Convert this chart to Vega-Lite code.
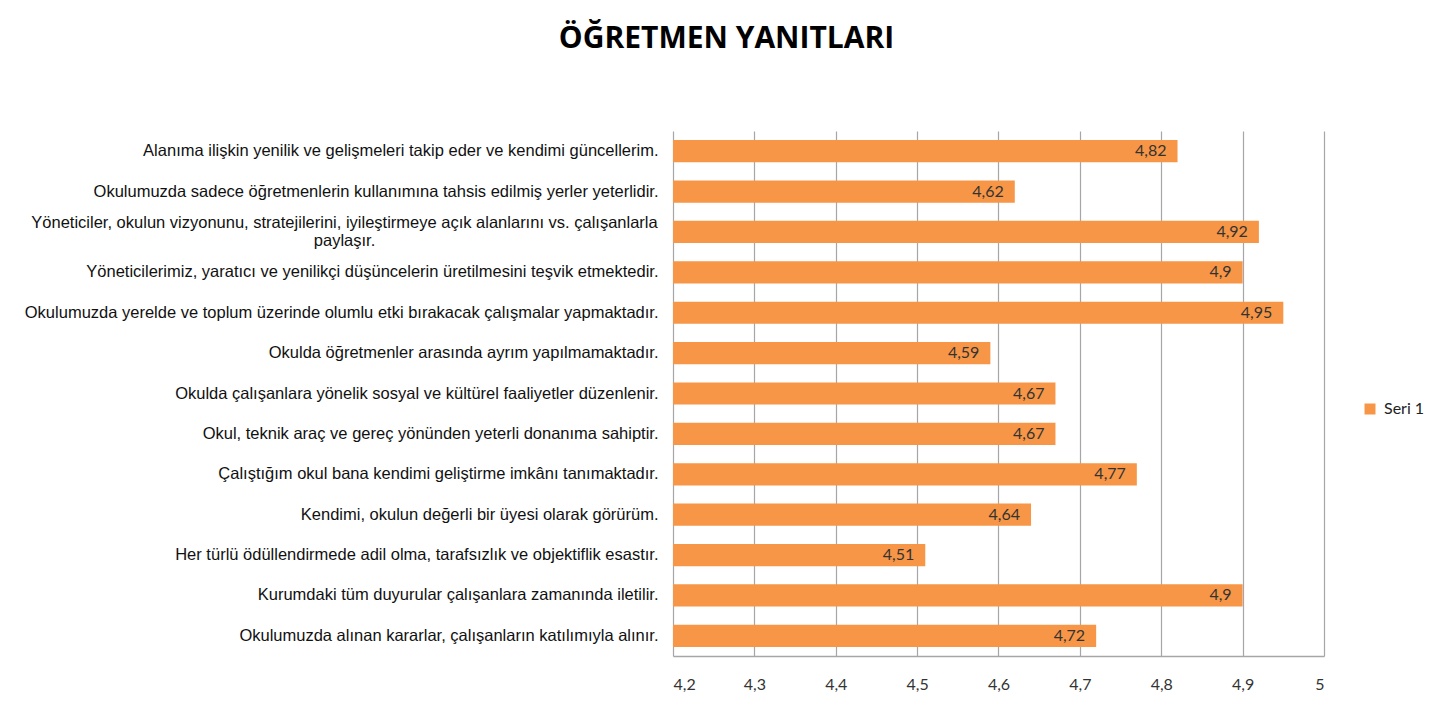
{
  "$schema": "https://vega.github.io/schema/vega-lite/v6.json",
  "width": 651,
  "height": 525,
  "autosize": {"type": "none"},
  "padding": {"left": 673, "top": 131, "right": 107, "bottom": 52},
  "background": "white",
  "title": {
    "text": "ÖĞRETMEN YANITLARI",
    "font": "Open Sans",
    "fontSize": 30,
    "fontWeight": "bold",
    "color": "#000000",
    "anchor": "middle",
    "dx": -272,
    "offset": 77
  },
  "config": {
    "locale": {"number": {"decimal": ",", "thousands": ".", "grouping": [3], "currency": ["", " ₺"]}},
    "view": {"stroke": null}
  },
  "data": {
    "values": [
      {"madde": "Alanıma ilişkin yenilik ve gelişmeleri takip eder ve kendimi güncellerim.", "deger": 4.82, "seri": "Seri 1"},
      {"madde": "Okulumuzda sadece öğretmenlerin kullanımına tahsis edilmiş yerler yeterlidir.", "deger": 4.62, "seri": "Seri 1"},
      {"madde": "Yöneticiler, okulun vizyonunu, stratejilerini, iyileştirmeye açık alanlarını vs. çalışanlarla\npaylaşır.", "deger": 4.92, "seri": "Seri 1"},
      {"madde": "Yöneticilerimiz, yaratıcı ve yenilikçi düşüncelerin üretilmesini teşvik etmektedir.", "deger": 4.9, "seri": "Seri 1"},
      {"madde": "Okulumuzda yerelde ve toplum üzerinde olumlu etki bırakacak çalışmalar yapmaktadır.", "deger": 4.95, "seri": "Seri 1"},
      {"madde": "Okulda öğretmenler arasında ayrım yapılmamaktadır.", "deger": 4.59, "seri": "Seri 1"},
      {"madde": "Okulda çalışanlara yönelik sosyal ve kültürel faaliyetler düzenlenir.", "deger": 4.67, "seri": "Seri 1"},
      {"madde": "Okul, teknik araç ve gereç yönünden yeterli donanıma sahiptir.", "deger": 4.67, "seri": "Seri 1"},
      {"madde": "Çalıştığım okul bana kendimi geliştirme imkânı tanımaktadır.", "deger": 4.77, "seri": "Seri 1"},
      {"madde": "Kendimi, okulun değerli bir üyesi olarak görürüm.", "deger": 4.64, "seri": "Seri 1"},
      {"madde": "Her türlü ödüllendirmede adil olma, tarafsızlık ve objektiflik esastır.", "deger": 4.51, "seri": "Seri 1"},
      {"madde": "Kurumdaki tüm duyurular çalışanlara zamanında iletilir.", "deger": 4.9, "seri": "Seri 1"},
      {"madde": "Okulumuzda alınan kararlar, çalışanların katılımıyla alınır.", "deger": 4.72, "seri": "Seri 1"}
    ]
  },
  "encoding": {
    "y": {
      "field": "madde",
      "type": "nominal",
      "sort": null,
      "scale": {"paddingInner": 0.45, "paddingOuter": 0.225},
      "axis": {
        "title": null,
        "domain": false,
        "ticks": false,
        "labelPadding": {"condition": {"test": "indexof(datum.value, '\\n') >= 0", "value": 329}, "value": 15},
        "labelAlign": {"condition": {"test": "indexof(datum.value, '\\n') >= 0", "value": "center"}, "value": "right"},
        "labelOffset": {"condition": {"test": "indexof(datum.value, '\\n') >= 0", "value": -9}, "value": 0},
        "labelFont": "Liberation Sans",
        "labelFontSize": 16.5,
        "labelColor": "#111111",
        "labelLimit": 800,
        "labelLineHeight": 18,
        "labelExpr": "split(datum.value, '\\n')"
      }
    }
  },
  "layer": [
    {
      "mark": {"type": "bar", "color": "#F79646"},
      "encoding": {
        "x": {
          "field": "deger",
          "type": "quantitative",
          "scale": {"domain": [4.2, 5], "nice": false, "zero": false},
          "axis": {
            "title": null,
            "values": [4.2, 4.3, 4.4, 4.5, 4.6, 4.7, 4.8, 4.9, 5],
            "format": "~g",
            "grid": true,
            "gridColor": "#A6A6A6",
            "gridWidth": 1.2,
            "domain": true,
            "domainColor": "#A6A6A6",
            "domainWidth": 1.5,
            "ticks": false,
            "labelPadding": 20,
            "labelFont": "Lato",
            "labelFontSize": 16,
            "labelColor": "#333333"
          }
        },
        "x2": {"datum": 4.2},
        "color": {
          "field": "seri",
          "type": "nominal",
          "scale": {"range": ["#F79646"]},
          "legend": {
            "title": null,
            "orient": "none",
            "legendX": 689,
            "legendY": 270,
            "symbolType": "square",
            "symbolSize": 121,
            "symbolStrokeWidth": 0,
            "symbolOpacity": 1,
            "labelFont": "Lato",
            "labelFontSize": 16,
            "labelColor": "#222222",
            "labelOffset": 6
          }
        }
      }
    },
    {
      "mark": {"type": "text", "align": "right", "baseline": "middle", "dx": -11, "font": "Lato", "fontSize": 16, "color": "#333333"},
      "encoding": {
        "x": {"field": "deger", "type": "quantitative"},
        "text": {"field": "deger", "type": "quantitative", "format": "~g"}
      }
    }
  ]
}
